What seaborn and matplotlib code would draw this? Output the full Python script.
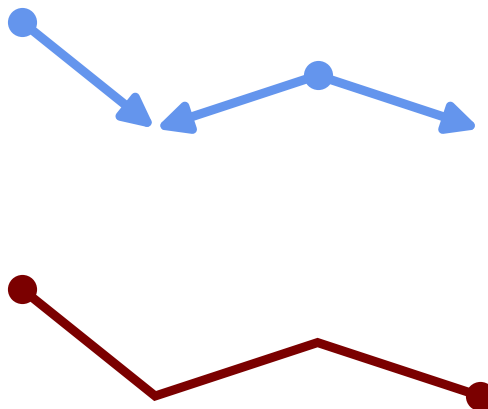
import numpy as np
import pandas as pd
import seaborn as sns
import matplotlib.pyplot as plt

# data
x = [0, 0.82, 1.82, 2.82]
blue_y = [9, 7, 8, 7]
red_y = [4, 2, 3, 2]
blue_arrows = [(0, 1), (2, 1), (2, 3)]  # (from index, to index)
blue_dots = [0, 2]

blue = "#6495ED"
red = "#7B0000"

sns.set_style("white")
fig = plt.figure(figsize=(4.88, 4.09), dpi=100)
ax = fig.add_axes([0, 0, 1, 1])

# red line, dots at the ends
df_red = pd.DataFrame({"x": x, "y": red_y})
sns.lineplot(data=df_red, x="x", y="y", ax=ax, color=red, linewidth=6.5,
             marker="o", markersize=21, markeredgewidth=0, markevery=[0, len(x) - 1],
             solid_joinstyle="miter", solid_capstyle="butt")

# blue arrows
for a, b in blue_arrows:
    ax.annotate("", xy=(x[b], blue_y[b]), xytext=(x[a], blue_y[a]),
                arrowprops=dict(arrowstyle="-|>,head_length=0.45,head_width=0.22",
                                color=blue, lw=6.5,
                                mutation_scale=40, shrinkA=0, shrinkB=0))
df_dots = pd.DataFrame({"x": [x[i] for i in blue_dots], "y": [blue_y[i] for i in blue_dots]})
sns.scatterplot(data=df_dots, x="x", y="y", ax=ax, color=blue, s=440, linewidth=0, zorder=5)

ax.set_xlim(-0.135, 2.869)
ax.set_ylim(1.757, 9.41)
ax.axis("off")

fig.savefig("out.png", dpi=100)
